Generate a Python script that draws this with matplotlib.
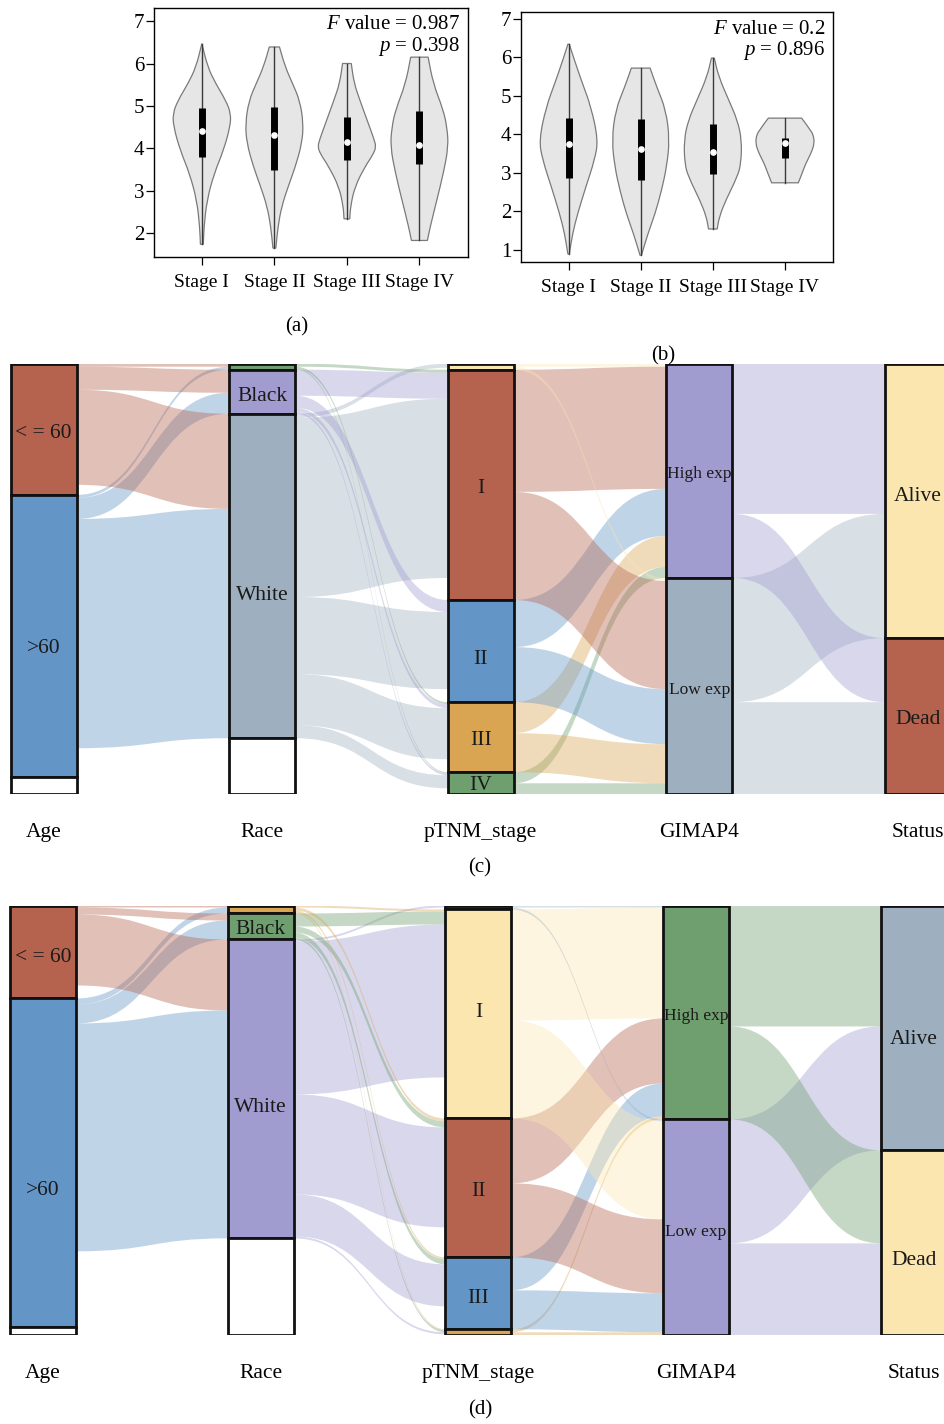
import numpy as np
import matplotlib.pyplot as plt
from matplotlib.path import Path
from matplotlib.patches import PathPatch, Rectangle

plt.rcParams['font.family'] = ['Liberation Serif', 'DejaVu Serif']
plt.rcParams['mathtext.fontset'] = 'custom'
plt.rcParams['mathtext.rm'] = 'Liberation Serif'
plt.rcParams['mathtext.it'] = 'Liberation Serif:italic'

# ---------------------------------------------------------------- violin data
stages = ['Stage I', 'Stage II', 'Stage III', 'Stage IV']

# (a) density outline per stage: expression levels and half widths
a_levels = [
    [1.74, 2.16, 2.78, 3.41, 3.96, 4.51, 4.82, 5.13, 5.53, 5.92, 6.47],
    [1.65, 2.16, 2.63, 3.10, 3.57, 4.12, 4.59, 5.13, 5.53, 5.92, 6.39],
    [2.34, 2.63, 3.10, 3.57, 3.88, 4.04, 4.19, 4.66, 5.13, 5.53, 6.00],
    [1.83, 2.16, 2.78, 3.41, 4.04, 4.50, 4.90, 5.53, 6.15],
]
a_widths = [
    [0.02, 0.03, 0.07, 0.17, 0.30, 0.39, 0.40, 0.33, 0.19, 0.08, 0.00],
    [0.02, 0.05, 0.10, 0.19, 0.29, 0.38, 0.40, 0.35, 0.25, 0.15, 0.07],
    [0.04, 0.05, 0.11, 0.25, 0.37, 0.40, 0.38, 0.28, 0.18, 0.10, 0.06],
    [0.11, 0.15, 0.24, 0.33, 0.40, 0.38, 0.33, 0.19, 0.12],
]
# min, q1, median, q3, max
a_box = [
    [1.74, 3.80, 4.41, 4.96, 6.47],
    [1.65, 3.50, 4.31, 4.98, 6.39],
    [2.34, 3.72, 4.16, 4.74, 6.00],
    [1.83, 3.62, 4.08, 4.88, 6.15],
]
a_stat = ['$F$ value = 0.987', '$p$ = 0.398']

# (b)
b_levels = [
    [0.89, 1.42, 1.94, 2.64, 3.33, 3.85, 4.72, 5.33, 5.93, 6.34],
    [0.86, 1.42, 1.94, 2.55, 3.16, 3.85, 4.63, 5.24, 5.72],
    [1.54, 1.86, 2.29, 2.90, 3.24, 3.85, 4.37, 4.89, 5.50, 5.98],
    [2.74, 3.00, 3.25, 3.50, 3.77, 4.00, 4.11, 4.30, 4.42],
]
b_widths = [
    [0.01, 0.055, 0.125, 0.24, 0.36, 0.41, 0.31, 0.19, 0.08, 0.01],
    [0.01, 0.10, 0.20, 0.29, 0.36, 0.40, 0.35, 0.22, 0.13],
    [0.06, 0.09, 0.18, 0.34, 0.39, 0.40, 0.34, 0.22, 0.08, 0.02],
    [0.185, 0.24, 0.29, 0.36, 0.41, 0.39, 0.35, 0.28, 0.23],
]
b_box = [
    [0.89, 2.87, 3.75, 4.42, 6.34],
    [0.86, 2.80, 3.62, 4.39, 5.72],
    [1.54, 2.98, 3.55, 4.26, 5.98],
    [2.74, 3.38, 3.78, 3.90, 4.42],
]
b_stat = ['$F$ value = 0.2', '$p$ = 0.896']

# ---------------------------------------------------------------- alluvial data
red = '#b5634f'
blue = '#6395c7'
orange = '#d9a553'
green = '#6f9f6f'
purple = '#a09cd0'
greyblue = '#9eafbf'
yellow = '#fbe6b0'

axis_names = ['Age', 'Race', 'pTNM_stage', 'GIMAP4', 'Status']

# (c) strata labels / colours ('white' = missing values)
c_labels = [['< = 60', '>60', ''], ['', 'Black', 'White', ''],
            ['', 'I', 'II', 'III', 'IV'], ['High exp', 'Low exp'], ['Alive', 'Dead']]
c_colors = [[red, blue, 'white'], [green, purple, greyblue, 'white'],
            [yellow, red, blue, orange, green], [purple, greyblue], [yellow, red]]
c_age_race = [[3, 23, 95, 10],
              [3, 21, 229, 29],
              [0, 0, 0, 17]]
c_race_stage = [[0, 3, 0, 2, 1],
                [0, 26, 12, 4, 2],
                [4, 179, 77, 51, 13],
                [2, 22, 13, 13, 6]]
c_stage_gimap = [[3, 3], [122, 108], [47, 55], [31, 39], [11, 11]]
c_gimap_status = [[150, 64], [124, 92]]
# label shift below the stratum middle
c_nudge = [[2, 10, 0], [0, 2, 17, 0], [0, 1, 6, 1, 0], [1, 2], [-7, 1]]

# (d)
d_labels = [['< = 60', '>60', ''], ['', 'Black', 'White', ''],
            ['', 'I', 'II', 'III', ''], ['High exp', 'Low exp'], ['Alive', 'Dead']]
d_colors = [[red, blue, 'white'], [orange, green, purple, 'white'],
            [greyblue, yellow, red, blue, orange], [green, purple], [greyblue, yellow]]
d_age_race = [[2, 7, 71, 13],
              [6, 19, 228, 76],
              [0, 0, 0, 8]]
d_race_stage = [[0, 2, 3, 2, 1],
                [0, 13, 6, 5, 2],
                [2, 153, 100, 42, 2],
                [2, 41, 30, 23, 1]]
d_stage_gimap = [[2, 2], [111, 98], [65, 74], [33, 39], [3, 3]]
d_gimap_status = [[121, 93], [124, 92]]
d_nudge = [[3, 25, 0], [0, 1, 16, 0], [0, -4, 1, 3, 0], [2, 3], [9, 15]]


def violin_patch(pos, levels, widths):
    # smooth outline: right side upwards, left side downwards
    right = [(pos + w, y) for y, w in zip(levels, widths)]
    left = [(pos - w, y) for y, w in zip(levels[::-1], widths[::-1])]
    verts, codes = [], []
    for k, pts in enumerate([right, left]):
        verts.append(pts[0])
        codes.append(Path.MOVETO if k == 0 else Path.LINETO)
        verts.append(((pts[0][0] + pts[1][0]) / 2, (pts[0][1] + pts[1][1]) / 2))
        codes.append(Path.LINETO)
        for i in range(1, len(pts) - 1):
            mid = ((pts[i][0] + pts[i + 1][0]) / 2, (pts[i][1] + pts[i + 1][1]) / 2)
            verts += [pts[i], mid]
            codes += [Path.CURVE3, Path.CURVE3]
        verts.append(pts[-1])
        codes.append(Path.LINETO)
    verts.append(right[0])
    codes.append(Path.CLOSEPOLY)
    return PathPatch(Path(verts, codes), facecolor='#e6e6e6', edgecolor='#7a7a7a', lw=0.9)


def violin_panel(rect, levels, widths, box, stat, ylim, yticks, stat_y, letter, letter_xy):
    ax = fig.add_axes(rect)
    for i in range(4):
        pos = i + 1
        ax.add_patch(violin_patch(pos, levels[i], widths[i]))
        lo, q1, med, q3, hi = box[i]
        ax.plot([pos, pos], [lo, hi], color='#3a3a3a', lw=1.0, zorder=3)
        ax.plot([pos, pos], [q1, q3], color='black', lw=5, solid_capstyle='butt', zorder=4)
        ax.plot(pos, med, marker='o', ms=3.8, color='white', mec='white', zorder=5)
    ax.set_xlim(0.34, 4.67)
    ax.set_ylim(*ylim)
    ax.set_xticks([1, 2, 3, 4])
    ax.set_xticklabels(stages)
    ax.set_yticks(yticks)
    ax.tick_params(labelsize=14, length=5.5, width=0.9, pad=1.5)
    ax.tick_params(axis='y', labelsize=15)
    ax.tick_params(axis='x', pad=7)
    for s in ax.spines.values():
        s.set_linewidth(1.0)
    ax.text(0.975, stat_y[0], stat[0], transform=ax.transAxes, ha='right', va='center', fontsize=15)
    ax.text(0.975, stat_y[1], stat[1], transform=ax.transAxes, ha='right', va='center', fontsize=15)
    fig.text(letter_xy[0], letter_xy[1], letter, ha='center', va='center', fontsize=15)
    return ax


def alluvial_panel(rect, labels, colors, nudge, flows, xlim, letter, letter_y):
    ax = fig.add_axes(rect)
    w = 0.303
    total = np.sum(flows[0])
    # stratum sizes from the cross tables
    sizes = [np.sum(flows[0], axis=1)] + [np.sum(f, axis=0) for f in flows]
    tops = [np.concatenate([[0], np.cumsum(s)[:-1]]) for s in sizes]

    # flows between neighbouring axes, coloured by the left stratum
    for k, f in enumerate(flows):
        f = np.array(f)
        nl, nr = f.shape
        x0 = k + w / 2
        x1 = k + 1 - w / 2
        xm = (x0 + x1) / 2
        lpos = tops[k].astype(float).copy()
        rpos = tops[k + 1].astype(float).copy()
        left_start = {}
        for i in range(nl):
            for j in range(nr):
                left_start[(i, j)] = lpos[i]
                lpos[i] += f[i, j]
        for j in range(nr):
            for i in range(nl):
                n = f[i, j]
                r0 = rpos[j]
                rpos[j] += n
                if n == 0 or colors[k][i] == 'white' or colors[k + 1][j] == 'white':
                    continue
                l0 = left_start[(i, j)]
                verts = [(x0, l0), (xm, l0), (xm, r0), (x1, r0),
                         (x1, r0 + n), (xm, r0 + n), (xm, l0 + n), (x0, l0 + n), (x0, l0)]
                codes = [Path.MOVETO, Path.CURVE4, Path.CURVE4, Path.CURVE4,
                         Path.LINETO, Path.CURVE4, Path.CURVE4, Path.CURVE4, Path.CLOSEPOLY]
                ax.add_patch(PathPatch(Path(verts, codes), facecolor=colors[k][i],
                                       edgecolor='none', alpha=0.4, zorder=1))

    # strata boxes
    for k in range(len(sizes)):
        for s, (t, n) in enumerate(zip(tops[k], sizes[k])):
            ax.add_patch(Rectangle((k - w / 2, t), w, n, facecolor=colors[k][s],
                                   edgecolor='#111111', lw=2.0, zorder=3))
            lab = labels[k][s]
            if lab:
                fs = 12.5 if 'exp' in lab else 15.5
                ax.text(k, t + n / 2 + nudge[k][s], lab, ha='center', va='center_baseline',
                        fontsize=fs, color='#1a1a1a', zorder=4)

    ax.set_xlim(*xlim)
    ax.set_ylim(total, 0)
    ax.set_xticks(range(len(axis_names)))
    ax.set_xticklabels(axis_names)
    ax.set_yticks([])
    ax.tick_params(axis='x', length=0, pad=21, labelsize=15.5)
    for s in ax.spines.values():
        s.set_visible(False)
    fig.text(480 / 944, letter_y, letter, ha='center', va='center', fontsize=15)
    return ax


fig = plt.figure(figsize=(9.44, 14.24), dpi=100)

violin_panel([154 / 944, 1 - 257 / 1424, 314 / 944, 249.5 / 1424],
             a_levels, a_widths, a_box, a_stat, (1.44, 7.32), [2, 3, 4, 5, 6, 7],
             (0.93, 0.845), '(a)', (297 / 944, 1 - 327 / 1424))
violin_panel([521 / 944, 1 - 261.7 / 1424, 312.3 / 944, 249.4 / 1424],
             b_levels, b_widths, b_box, b_stat, (0.69, 7.17), [1, 2, 3, 4, 5, 6, 7],
             (0.93, 0.845), '(b)', (663 / 944, 1 - 356 / 1424))

alluvial_panel([0, 1 - 794.3 / 1424, 1, 430.6 / 1424], c_labels, c_colors, c_nudge,
               [c_age_race, c_race_stage, c_stage_gimap, c_gimap_status],
               (-0.2, 4.12), '(c)', 1 - 868 / 1424)
alluvial_panel([0, 1 - 1335.3 / 1424, 1, 429.8 / 1424], d_labels, d_colors, d_nudge,
               [d_age_race, d_race_stage, d_stage_gimap, d_gimap_status],
               (-0.1975, 4.139), '(d)', 1 - 1410 / 1424)

plt.savefig('out.png', dpi=100)
